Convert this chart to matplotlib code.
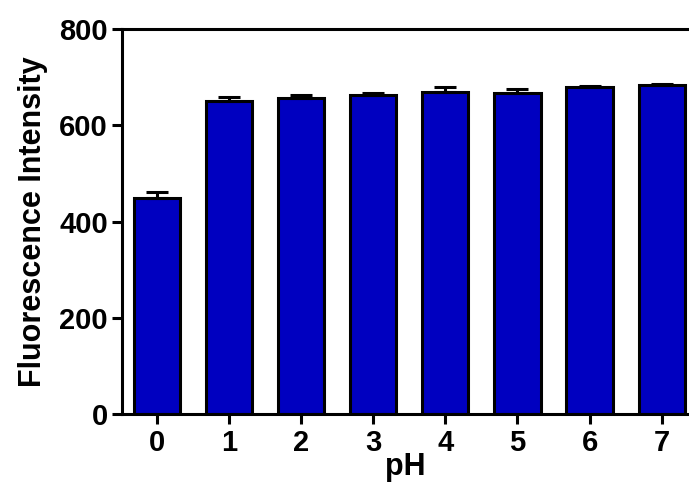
import matplotlib.pyplot as plt
import numpy as np

ph = [0, 1, 2, 3, 4, 5, 6, 7]
intensity = [449, 651, 658, 663, 670, 668, 680, 684]
err = [13, 8, 6, 5, 10, 7, 3, 3]

plt.rcParams['font.family'] = ['Liberation Sans', 'DejaVu Sans']
plt.rcParams['font.weight'] = 'bold'

fig = plt.figure(figsize=(6.89, 4.92), dpi=100)
ax = fig.add_axes([0.1766, 0.1585, 0.8234, 0.782])

x = np.arange(len(ph))
ax.bar(x, intensity, width=0.64, color='#0000C0', edgecolor='black', linewidth=2.2,
       yerr=[np.zeros(len(err)), err], capsize=8,
       error_kw=dict(elinewidth=2.2, capthick=2.2, ecolor='black'), zorder=2)

ax.set_xlim(-0.49, 7.38)
ax.set_ylim(0, 800)
ax.set_yticks([0, 200, 400, 600, 800])
ax.set_xticks(x)
ax.set_xticklabels([str(p) for p in ph])

for s in ['left', 'bottom', 'top']:
    ax.spines[s].set_linewidth(2.2)
ax.spines['right'].set_visible(False)

ax.tick_params(axis='both', width=2.2, labelsize=21, direction='out')
ax.tick_params(axis='y', length=7, pad=3)
ax.tick_params(axis='x', length=7, pad=4)
ax.tick_params(axis='x', which='both', top=False)

ax.set_ylabel('Fluorescence Intensity', fontsize=22, fontweight='bold', labelpad=8)
ax.set_xlabel('pH', fontsize=22, fontweight='bold', labelpad=-4)

fig.savefig('out.png', dpi=100)
